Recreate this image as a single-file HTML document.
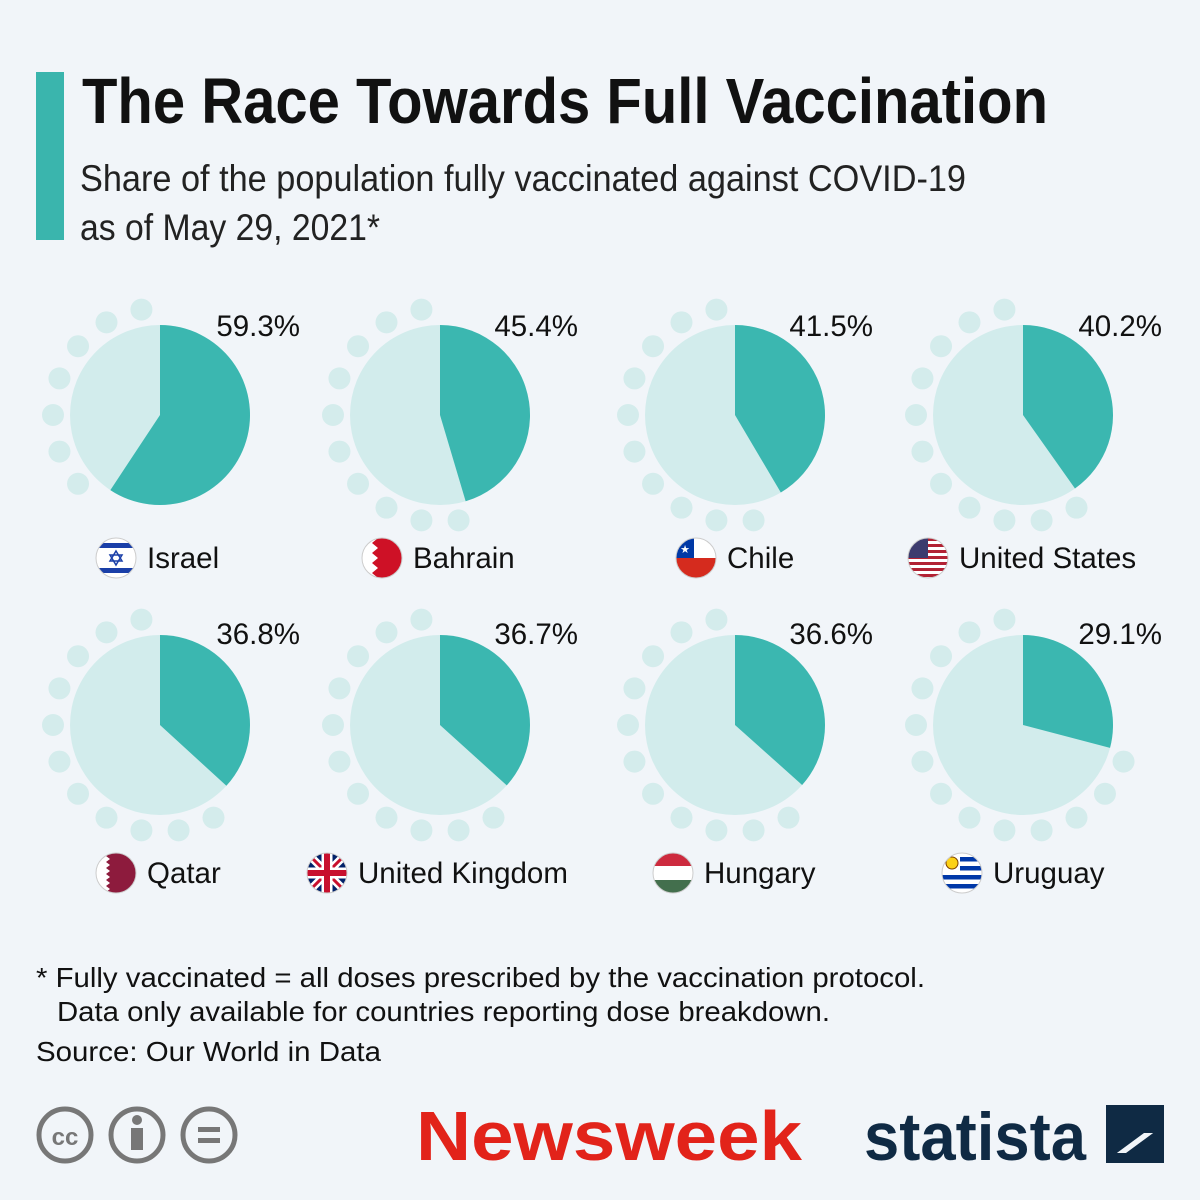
<!DOCTYPE html>
<html><head><meta charset="utf-8"><style>
html,body{margin:0;background:#f1f5f9;overflow:hidden;width:1200px;height:1200px;}
svg{display:block}
svg text{font-family:"Liberation Sans",sans-serif;}
</style></head><body>
<svg id="s" width="1200" height="1200" xmlns="http://www.w3.org/2000/svg">
<rect width="1200" height="1200" fill="#f1f5f9"/>
<rect x="36" y="72" width="28" height="168" fill="#3ab5ad"/>
<text x="82" y="123" font-family="'Liberation Sans Narrow','Liberation Sans',sans-serif" font-weight="bold" font-size="64" fill="#111" textLength="966" lengthAdjust="spacingAndGlyphs">The Race Towards Full Vaccination</text>
<text x="80" y="191" font-family="'Liberation Sans Narrow','Liberation Sans',sans-serif" font-size="37" fill="#222" textLength="886" lengthAdjust="spacingAndGlyphs">Share of the population fully vaccinated against COVID-19</text>
<text x="80" y="240" font-family="'Liberation Sans Narrow','Liberation Sans',sans-serif" font-size="37" fill="#222" textLength="300" lengthAdjust="spacingAndGlyphs">as of May 29, 2021*</text>
<g id="charts"></g>
<text x="36" y="987" font-size="28" fill="#111" textLength="889" lengthAdjust="spacingAndGlyphs">* Fully vaccinated = all doses prescribed by the vaccination protocol.</text>
<text x="57" y="1021" font-size="28" fill="#111" textLength="773" lengthAdjust="spacingAndGlyphs">Data only available for countries reporting dose breakdown.</text>
<text x="36" y="1061" font-size="28" fill="#111" textLength="345" lengthAdjust="spacingAndGlyphs">Source: Our World in Data</text>
<g fill="none" stroke="#777" stroke-width="5">
<circle cx="65" cy="1135" r="26"/><circle cx="137" cy="1135" r="26"/><circle cx="209" cy="1135" r="26"/></g>
<text x="65" y="1145" font-size="24" font-weight="bold" fill="#777" text-anchor="middle">cc</text>
<circle cx="137" cy="1120" r="5" fill="#777"/><rect x="131" y="1128" width="12" height="22" fill="#777"/>
<rect x="198" y="1127" width="22" height="5" fill="#777"/><rect x="198" y="1138" width="22" height="5" fill="#777"/>
<text x="416" y="1160" font-family="'Liberation Serif',serif" font-weight="bold" font-size="70" fill="#e2231a" textLength="386" lengthAdjust="spacingAndGlyphs">Newsweek</text>
<text x="864" y="1160" font-family="'Liberation Sans Narrow','Liberation Sans',sans-serif" font-weight="bold" font-size="68" fill="#0f2a44" textLength="222" lengthAdjust="spacingAndGlyphs">statista</text>
<path d="M1106 1105h58v28h-20l-38 28zM1164 1163h-58v-10h20l38-28z" fill="#0f2a44"/>
</svg>
<script>
const data=[["Israel",59.3,"il"],["Bahrain",45.4,"bh"],["Chile",41.5,"cl"],["United States",40.2,"us"],
["Qatar",36.8,"qa"],["United Kingdom",36.7,"uk"],["Hungary",36.6,"hu"],["Uruguay",29.1,"uy"]];
const cx=[160,440,735,1023],cy=[415,725],lx=[300,578,873,1162],ly=[336,644],ny=[558,873];
const nameX=[[116,382,696,928],[116,327,673,962]];
let h="";
function flag(t,x,y){let r=20,id="c"+t;let s=`<clipPath id="${id}"><circle cx="${x}" cy="${y}" r="${r}"/></clipPath><g clip-path="url(#${id})">`;
const X=x-r,Y=y-r;
if(t=="il")s+=`<rect x="${X}" y="${Y}" width="40" height="40" fill="#fff"/><rect x="${X}" y="${Y+5}" width="40" height="5" fill="#1a3fa8"/><rect x="${X}" y="${Y+30}" width="40" height="5" fill="#1a3fa8"/><path d="M${x} ${y-7}l6 10h-12zM${x} ${y+7}l6-10h-12z" fill="none" stroke="#1a3fa8" stroke-width="1.5"/>`;
if(t=="bh")s+=`<rect x="${X}" y="${Y}" width="40" height="40" fill="#ce1126"/><path d="M${X} ${Y}h16l-6 5 6 5-6 5 6 5-6 5 6 5-6 5 6 5h-16z" fill="#fff"/>`;
if(t=="cl")s+=`<rect x="${X}" y="${Y}" width="40" height="40" fill="#fff"/><rect x="${X}" y="${y}" width="40" height="20" fill="#d52b1e"/><rect x="${X}" y="${Y}" width="18" height="20" fill="#0039a6"/><text x="${X+9}" y="${Y+15}" font-size="11" fill="#fff" text-anchor="middle">★</text>`;
if(t=="us"){s+=`<rect x="${X}" y="${Y}" width="40" height="40" fill="#fff"/>`;for(let i=0;i<7;i++)s+=`<rect x="${X}" y="${Y+i*6}" width="40" height="3" fill="#b22234"/>`;s+=`<rect x="${X}" y="${Y}" width="20" height="20" fill="#3c3b6e"/>`;}
if(t=="qa")s+=`<rect x="${X}" y="${Y}" width="40" height="40" fill="#8d1b3d"/><path d="M${X} ${Y}h14l-4 3 4 3-4 3 4 3-4 3 4 3-4 3 4 3-4 3 4 3-4 3 4 3-4 3h-14z" fill="#fff"/>`;
if(t=="uk")s+=`<rect x="${X}" y="${Y}" width="40" height="40" fill="#012169"/><path d="M${X} ${Y}L${X+40} ${Y+40}M${X+40} ${Y}L${X} ${Y+40}" stroke="#fff" stroke-width="8"/><path d="M${X} ${Y}L${X+40} ${Y+40}M${X+40} ${Y}L${X} ${Y+40}" stroke="#c8102e" stroke-width="3"/><path d="M${x} ${Y}v40M${X} ${y}h40" stroke="#fff" stroke-width="11"/><path d="M${x} ${Y}v40M${X} ${y}h40" stroke="#c8102e" stroke-width="6"/>`;
if(t=="hu")s+=`<rect x="${X}" y="${Y}" width="40" height="14" fill="#cd2a3e"/><rect x="${X}" y="${Y+13}" width="40" height="14" fill="#fff"/><rect x="${X}" y="${Y+27}" width="40" height="13" fill="#436f4d"/>`;
if(t=="uy"){s+=`<rect x="${X}" y="${Y}" width="40" height="40" fill="#fff"/>`;for(let i=0;i<4;i++)s+=`<rect x="${X}" y="${Y+4+i*9}" width="40" height="4.5" fill="#0038a8"/>`;s+=`<rect x="${X}" y="${Y}" width="18" height="18" fill="#fff"/><circle cx="${X+10}" cy="${Y+10}" r="6" fill="#fcd116" stroke="#7b3f00" stroke-width="1"/>`;}
return s+`</g><circle cx="${x}" cy="${y}" r="${r}" fill="none" stroke="#ccc" stroke-width="1"/>`;}
data.forEach((d,i)=>{const c=i%4,r=Math.floor(i/4),x=cx[c],y=cy[r],R=90,f=d[1]/100;
const deg=f*360;
for(let a=10;a<360;a+=20){if(a>deg+1){const t=a*Math.PI/180;h+=`<circle cx="${x+107*Math.sin(t)}" cy="${y-107*Math.cos(t)}" r="11" fill="#d4ecec"/>`;}}
h+=`<circle cx="${x}" cy="${y}" r="${R}" fill="#d2ecec"/>`;
const t=deg*Math.PI/180,ex=x+R*Math.sin(t),ey=y-R*Math.cos(t);
h+=`<path d="M${x} ${y}V${y-R}A${R} ${R} 0 ${deg>180?1:0} 1 ${ex} ${ey}Z" fill="#3bb7b0"/>`;
h+=`<text x="${lx[c]}" y="${ly[r]}" font-size="29.5" text-anchor="end" fill="#111">${d[1].toFixed(1)}%</text>`;
const fx=nameX[r][c];h+=flag(d[2],fx,ny[r]);
h+=`<text x="${fx+31}" y="${ny[r]+10}" font-size="29.5" fill="#111">${d[0]}</text>`;});
document.getElementById("charts").innerHTML=h;
</script>
</body></html>
